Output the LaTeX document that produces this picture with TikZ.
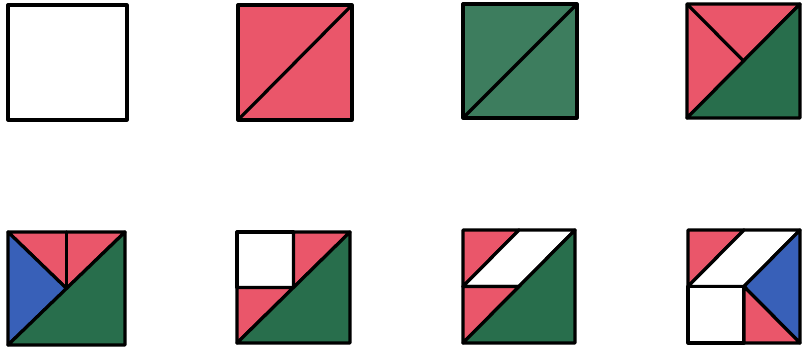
\documentclass[tikz,border=0pt]{standalone}
\usepackage{xcolor}
\usepackage{tikz}

\definecolor{quiltpink}{RGB}{234,86,106}
\definecolor{quiltgreen}{RGB}{40,110,76}
\definecolor{quiltblue}{RGB}{56,96,184}

\begin{document}
\begin{tikzpicture}[x=1pt, y=-1pt,
  patch/.style={draw=black, line width=3.2pt, line join=round, line cap=round}]
\useasboundingbox (0,0) rectangle (809,352);
% top row
% plain white block
\begin{scope}[shift={(8,5)}, x=119pt, y=-115pt]
\draw[patch, fill=white] (0,0) rectangle (1,1);
\end{scope}
% pink block, split on the diagonal
\begin{scope}[shift={(238,5)}, x=114pt, y=-115pt]
\draw[patch, fill=quiltpink] (0,0) rectangle (1,1);
\draw[patch] (0,1) -- (1,0);
\end{scope}
% green block, split on the diagonal
\begin{scope}[shift={(463,4)}, x=114pt, y=-114pt]
\draw[patch, fill=quiltgreen!90!white] (0,0) rectangle (1,1);
\draw[patch] (0,1) -- (1,0);
\end{scope}
% pink half cut in two, green half
\begin{scope}[shift={(687,4)}, x=113pt, y=-114pt]
\draw[patch, fill=quiltpink] (0,0) -- (1,0) -- (0,1) -- cycle;
\draw[patch, fill=quiltgreen] (1,0) -- (1,1) -- (0,1) -- cycle;
\draw[patch] (0,0) -- (0.5,0.5);
\end{scope}
% bottom row
% blue and two pink triangles, green half
\begin{scope}[shift={(8,232)}, x=117pt, y=-113pt]
\draw[patch, fill=quiltpink] (0,0) -- (1,0) -- (0.5,0.5) -- cycle;
\draw[patch, fill=quiltblue] (0,0) -- (0.5,0.5) -- (0,1) -- cycle;
\draw[patch, fill=quiltgreen] (1,0) -- (1,1) -- (0,1) -- cycle;
\draw[patch] (0.5,0) -- (0.5,0.5);
\end{scope}
% white corner square, two pink triangles, green half
\begin{scope}[shift={(237,232)}, x=113pt, y=-111pt]
\draw[patch, fill=white] (0,0) rectangle (0.5,0.5);
\draw[patch, fill=quiltpink] (0.5,0) -- (1,0) -- (0.5,0.5) -- cycle;
\draw[patch, fill=quiltpink] (0,0.5) -- (0.5,0.5) -- (0,1) -- cycle;
\draw[patch, fill=quiltgreen] (1,0) -- (1,1) -- (0,1) -- cycle;
\end{scope}
% pink triangles with a white band, green half
\begin{scope}[shift={(463,230)}, x=112pt, y=-113pt]
\draw[patch, fill=quiltpink] (0,0) -- (0.5,0) -- (0,0.5) -- cycle;
\draw[patch, fill=white] (0.5,0) -- (1,0) -- (0.5,0.5) -- (0,0.5) -- cycle;
\draw[patch, fill=quiltpink] (0,0.5) -- (0.5,0.5) -- (0,1) -- cycle;
\draw[patch, fill=quiltgreen] (1,0) -- (1,1) -- (0,1) -- cycle;
\end{scope}
% white band and square, blue and pink triangles
\begin{scope}[shift={(688,230)}, x=112pt, y=-113pt]
\draw[patch, fill=quiltpink] (0,0) -- (0.5,0) -- (0,0.5) -- cycle;
\draw[patch, fill=white] (0.5,0) -- (1,0) -- (0.5,0.5) -- (0,0.5) -- cycle;
\draw[patch, fill=white] (0,0.5) rectangle (0.5,1);
\draw[patch, fill=quiltblue] (1,0) -- (1,1) -- (0.5,0.5) -- cycle;
\draw[patch, fill=quiltpink] (0.5,0.5) -- (1,1) -- (0.5,1) -- cycle;
\end{scope}
\end{tikzpicture}
\end{document}
